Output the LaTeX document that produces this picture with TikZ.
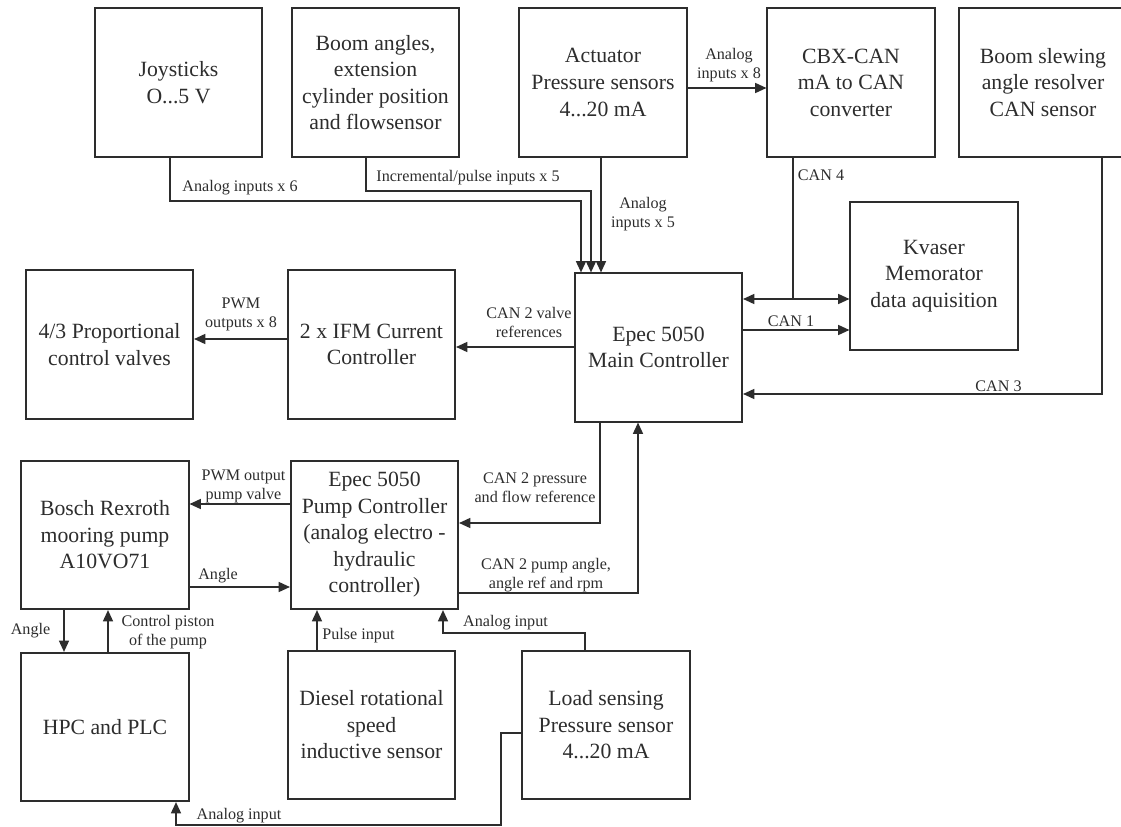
\documentclass[tikz,border=0pt]{standalone}
\usepackage{fontspec}
\setmainfont{Liberation Serif}
\usetikzlibrary{arrows.meta}
\definecolor{ink}{RGB}{45,45,45}
\newcommand\boxfont{\fontsize{16.3}{19.9}\selectfont}
\newcommand\lblfont{\fontsize{12.1}{14.3}\selectfont}
\begin{document}
\begin{tikzpicture}[x=0.75pt,y=-0.75pt,
  blk/.style={draw=ink, line width=1.2pt, minimum width=125.6pt, minimum height=111.4pt, inner sep=0pt, align=center, font=\boxfont, text=ink},
  lbl/.style={inner sep=0pt, align=center, font=\lblfont, text=ink},
  ln/.style={draw=ink, line width=1.2pt},
  arr/.style={ln, -{Triangle[length=8.5pt,width=7.5pt]}},
  arrb/.style={ln, {Triangle[length=8.5pt,width=7.5pt]}-{Triangle[length=8.5pt,width=7.5pt]}}]
\useasboundingbox (0,0) rectangle (1121,827);
\fill[white] (0,0) rectangle (1121,827);

% boxes
\node[blk] (joy)    at (178.5,82.5) {Joysticks\\O...5 V};
\node[blk] (boom)   at (375.5,82.5) {Boom angles,\\extension\\cylinder position\\and flowsensor};
\node[blk] (act)    at (603,82.5)   {Actuator\\Pressure sensors\\4...20 mA};
\node[blk] (cbx)    at (851,82.5)   {CBX-CAN\\mA to CAN\\converter};
\node[blk] (slew)   at (1043,82.5)  {Boom slewing\\angle resolver\\CAN sensor};
\node[blk] (kva)    at (934,276)    {Kvaser\\Memorator\\data aquisition};
\node[blk] (main)   at (658.5,347.5) {Epec 5050\\Main Controller};
\node[blk] (prop)   at (109.5,344.5) {4/3 Proportional\\control valves};
\node[blk] (ifm)    at (371.5,344.5) {2 x IFM Current\\Controller};
\node[blk] (bosch)  at (105,535)    {Bosch Rexroth\\mooring pump\\A10VO71};
\node[blk] (pump)   at (374.5,535)  {Epec 5050\\Pump Controller\\(analog electro -\\hydraulic\\controller)};
\node[blk] (hpc)    at (105,727)    {HPC and PLC};
\node[blk] (diesel) at (371.5,725)  {Diesel rotational\\speed\\inductive sensor};
\node[blk] (load)   at (606,725)    {Load sensing\\Pressure sensor\\4...20 mA};

% bend coordinates
\coordinate (jb) at (170,201);
\coordinate (je) at (581,201);
\coordinate (bb) at (366,191);
\coordinate (be) at (591,191);
\coordinate (ae) at (601,0);
\coordinate (ac) at (700,88);
\coordinate (c4) at (793,299);
\coordinate (c1) at (800,330);
\coordinate (c3) at (1102,394);
\coordinate (c2v) at (500,347);
\coordinate (pw) at (240,339);
\coordinate (cp) at (600,523);
\coordinate (ca) at (638,593);
\coordinate (pv) at (240,504);
\coordinate (pa) at (240,587);
\coordinate (ba) at (64,630);
\coordinate (bc) at (108,630);
\coordinate (pu) at (317,630);
\coordinate (la) at (585,633);
\coordinate (lb) at (443,633);
\coordinate (h1) at (501,733);
\coordinate (h2) at (501,825);
\coordinate (h3) at (176,825);

% connectors
\draw[arr] (joy.south -| jb) -- (jb) -- (je) -- (main.north -| je);
\draw[arr] (boom.south -| bb) -- (bb) -- (be) -- (main.north -| be);
\draw[arr] (act.south -| ae) -- (main.north -| ae);
\draw[arr] (act.east |- ac) -- (cbx.west |- ac);
\draw[ln] (cbx.south -| c4) -- (c4);
\draw[arrb] (main.east |- c4) -- (kva.west |- c4);
\draw[arr] (main.east |- c1) -- (kva.west |- c1);
\draw[arr] (slew.south -| c3) -- (c3) -- (main.east |- c3);
\draw[arr] (main.west |- c2v) -- (ifm.east |- c2v);
\draw[arr] (ifm.west |- pw) -- (prop.east |- pw);
\draw[arr] (main.south -| cp) -- (cp) -- (pump.east |- cp);
\draw[arr] (pump.east |- ca) -- (ca) -- (main.south -| ca);
\draw[arr] (pump.west |- pv) -- (bosch.east |- pv);
\draw[arr] (bosch.east |- pa) -- (pump.west |- pa);
\draw[arr] (bosch.south -| ba) -- (hpc.north -| ba);
\draw[arr] (hpc.north -| bc) -- (bosch.south -| bc);
\draw[arr] (diesel.north -| pu) -- (pump.south -| pu);
\draw[arr] (load.north -| la) -- (la) -- (lb) -- (pump.south -| lb);
\draw[arr] (load.west |- h1) -- (h1) -- (h2) -- (h3) -- (hpc.south -| h3);

% labels
\node[lbl] (l1)  at (240,188)   {Analog inputs x 6};
\node[lbl] (l2)  at (468,178)   {Incremental/pulse inputs x 5};
\node[lbl] (l3)  at (643,214)   {Analog\\inputs x 5};
\node[lbl] (l4)  at (729,65.5)  {Analog\\inputs x 8};
\node[lbl] (l5)  at (821,175)   {CAN 4};
\node[lbl] (l6)  at (791,321)   {CAN 1};
\node[lbl] (l7)  at (998.5,386) {CAN 3};
\node[lbl] (l8)  at (529,322.5) {CAN 2 valve\\references};
\node[lbl] (l9)  at (241,314)   {PWM\\outputs x 8};
\node[lbl] (l10) at (535,488)   {CAN 2 pressure\\and flow reference};
\node[lbl] (l11) at (546,575.5) {CAN 2 pump angle,\\angle ref and rpm};
\node[lbl] (l12) at (243.5,486) {PWM output\\pump valve};
\node[lbl] (l13) at (218,576)   {Angle};
\node[lbl] (l14) at (30.5,631)  {Angle};
\node[lbl] (l15) at (168,632.5) {Control piston\\of the pump};
\node[lbl] (l16) at (358.5,636) {Pulse input};
\node[lbl] (l17) at (505.5,623) {Analog input};
\node[lbl] (l18) at (239,816)   {Analog input};
\end{tikzpicture}
\end{document}
